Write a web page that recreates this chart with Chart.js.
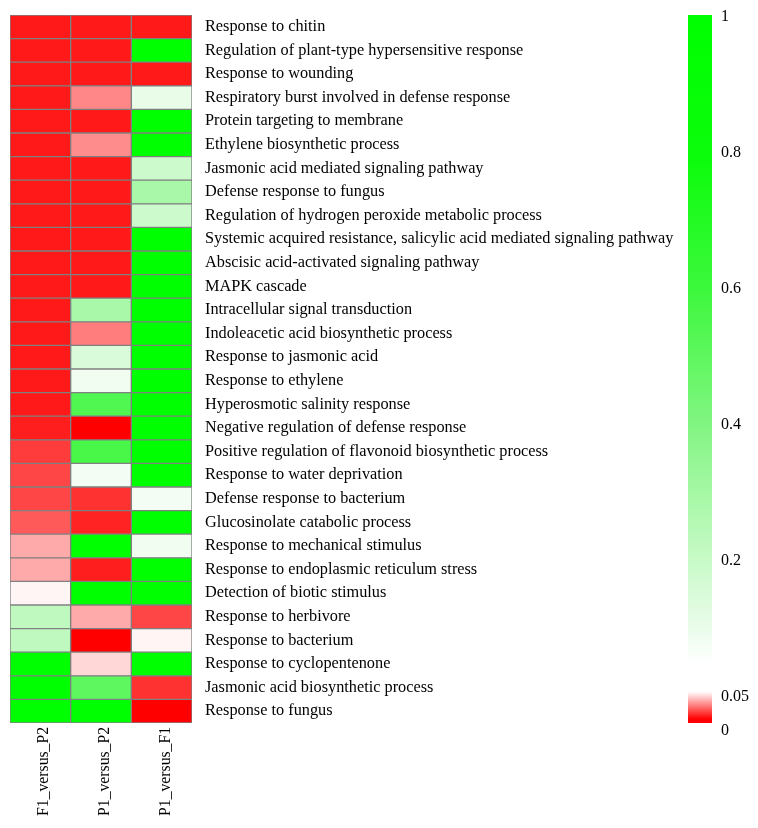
<!DOCTYPE html>
<html>
<head>
<meta charset="utf-8">
<script src="https://cdn.jsdelivr.net/npm/chart.js@4.4.1/dist/chart.umd.min.js"></script>
<style>
  html, body { margin: 0; padding: 0; background: #fff; }
  #wrap { width: 758px; height: 828px; }
</style>
</head>
<body>
<div id="wrap"><canvas id="heatChart" width="758" height="828"></canvas></div>
<script>
// rows of the heatmap, top to bottom
const goTerms = [
  "Response to chitin",
  "Regulation of plant-type hypersensitive response",
  "Response to wounding",
  "Respiratory burst involved in defense response",
  "Protein targeting to membrane",
  "Ethylene biosynthetic process",
  "Jasmonic acid mediated signaling pathway",
  "Defense response to fungus",
  "Regulation of hydrogen peroxide metabolic process",
  "Systemic acquired resistance, salicylic acid mediated signaling pathway",
  "Abscisic acid-activated signaling pathway",
  "MAPK cascade",
  "Intracellular signal transduction",
  "Indoleacetic acid biosynthetic process",
  "Response to jasmonic acid",
  "Response to ethylene",
  "Hyperosmotic salinity response",
  "Negative regulation of defense response",
  "Positive regulation of flavonoid biosynthetic process",
  "Response to water deprivation",
  "Defense response to bacterium",
  "Glucosinolate catabolic process",
  "Response to mechanical stimulus",
  "Response to endoplasmic reticulum stress",
  "Detection of biotic stimulus",
  "Response to herbivore",
  "Response to bacterium",
  "Response to cyclopentenone",
  "Jasmonic acid biosynthetic process",
  "Response to fungus"
];

const comparisons = ["F1_versus_P2", "P1_versus_P2", "P1_versus_F1"];

// p-values
const valsF1vsP2 = [0.005, 0.005, 0.005, 0.005, 0.005, 0.005, 0.005, 0.005, 0.005, 0.005,
                    0.005, 0.005, 0.005, 0.005, 0.005, 0.005, 0.005, 0.006, 0.012, 0.014,
                    0.014, 0.018, 0.034, 0.034, 0.049, 0.223, 0.223, 1, 1, 1];
const valsP1vsP2 = [0.005, 0.005, 0.005, 0.027, 0.005, 0.028, 0.005, 0.005, 0.005, 0.005,
                    0.005, 0.005, 0.29, 0.025, 0.149, 0.082, 0.543, 0, 0.566, 0.08,
                    0.01, 0.007, 1, 0.006, 1, 0.034, 0, 0.043, 0.5, 1];
const valsP1vsF1 = [0.005, 1, 0.005, 0.109, 1, 1, 0.19, 0.29, 0.19, 1,
                    1, 1, 1, 1, 1, 1, 1, 1, 1, 1,
                    0.08, 1, 0.082, 1, 1, 0.014, 0.049, 1, 0.01, 0];

const legendTickLabels = ["1", "0.8", "0.6", "0.4", "0.2", "0.05", "0"];

// colour scale: red -> white up to 0.05, white -> green above
const greenStops = [[0.05, 255, 255], [0.1, 235, 252], [0.2, 200, 250], [0.4, 130, 245],
                    [0.6, 60, 248], [0.8, 10, 252], [1, 0, 255]];

function heatColor(v) {
  if (v <= 0.05) {
    const gb = Math.round(250 * v / 0.05);
    return `rgb(255, ${gb}, ${gb})`;
  }
  for (let i = 1; i < greenStops.length; i++) {
    const a = greenStops[i - 1], b = greenStops[i];
    if (v <= b[0]) {
      const t = (v - a[0]) / (b[0] - a[0]);
      const rb = Math.round(a[1] + (b[1] - a[1]) * t);
      const g = Math.round(a[2] + (b[2] - a[2]) * t);
      return `rgb(${rb}, ${g}, ${rb})`;
    }
  }
  return "rgb(0, 255, 0)";
}

const allVals = [valsF1vsP2, valsP1vsP2, valsP1vsF1];
const datasets = allVals.map((vals, c) => ({
  label: comparisons[c],
  data: vals.map(() => [c, c + 1]),
  backgroundColor: vals.map(heatColor),
  borderColor: "#808080",
  borderWidth: 1,
  borderSkipped: false,
  barPercentage: 1,
  categoryPercentage: 1,
  grouped: false
}));

const serifFamily = "'Liberation Serif', 'Times New Roman', serif";

// gradient legend drawn inside the 'cb' axis box
const colorBarPlugin = {
  id: "colorBar",
  afterDraw(chart) {
    const sc = chart.scales.cb;
    const ctx = chart.ctx;
    const top = chart.chartArea.top, bottom = chart.chartArea.bottom;
    const zero = sc.getPixelForValue(0);
    const grad = ctx.createLinearGradient(0, top, 0, bottom);
    const f = (p) => Math.min(1, Math.max(0, (p - top) / (bottom - top)));
    for (let u = 1; u >= 0.05 - 1e-9; u -= 0.05) {
      grad.addColorStop(f(sc.getPixelForValue(u)), heatColor(Math.max(u, 0.0501)));
    }
    grad.addColorStop(f(zero - 6), heatColor(0.0501));
    const redTop = zero - 5;
    for (let k = 0; k <= 10; k++) {
      const p = redTop + (bottom - 4 - redTop) * k / 10;
      grad.addColorStop(f(p), heatColor(0.05 - 0.005 * k));
    }
    grad.addColorStop(1, heatColor(0));
    ctx.save();
    ctx.fillStyle = grad;
    ctx.fillRect(sc.left, top, 24, bottom - top);
    ctx.restore();
  }
};

new Chart(document.getElementById("heatChart"), {
  type: "bar",
  plugins: [colorBarPlugin],
  data: {
    labels: goTerms,
    datasets: datasets
  },
  options: {
    indexAxis: "y",
    responsive: false,
    animation: false,
    devicePixelRatio: 1,
    layout: { padding: { left: 10, top: 15, right: 0, bottom: 0 } },
    scales: {
      x: {
        type: "linear",
        min: 0,
        max: 3,
        grid: { display: false, drawTicks: true, tickLength: 4 },
        border: { display: false },
        afterBuildTicks: (scale) => {
          scale.ticks = [0.5, 1.5, 2.5].map((v) => ({ value: v }));
        },
        afterFit: (scale) => { scale.height = 105; },
        ticks: {
          autoSkip: false,
          minRotation: 90,
          maxRotation: 90,
          padding: 0,
          labelOffset: 4,
          color: "#000",
          font: { family: serifFamily, size: 15.7 },
          callback: (value) => comparisons[Math.round(value - 0.5)]
        }
      },
      y: {
        position: "right",
        weight: 0,
        grid: { display: false, drawTicks: true, tickLength: 13 },
        border: { display: false },
        afterFit: (scale) => { scale.width = 496; },
        ticks: {
          autoSkip: false,
          padding: 0,
          color: "#000",
          font: { family: serifFamily, size: 16.3 }
        }
      },
      cb: {
        type: "linear",
        position: "right",
        weight: 1,
        offset: false,
        min: -0.038,
        max: 1.003,
        grid: { display: false, drawTicks: true, tickLength: 33 },
        border: { display: false },
        afterBuildTicks: (scale) => {
          scale.ticks = [1, 0.8, 0.6, 0.4, 0.2, 0, -0.05].map((v) => ({ value: v }));
        },
        afterFit: (scale) => { scale.width = 70; },
        ticks: {
          autoSkip: false,
          padding: 0,
          color: "#000",
          font: { family: serifFamily, size: 16 },
          callback: (value, index) => legendTickLabels[index]
        }
      }
    },
    plugins: {
      legend: { display: false },
      tooltip: { enabled: false }
    }
  }
});
</script>
</body>
</html>
